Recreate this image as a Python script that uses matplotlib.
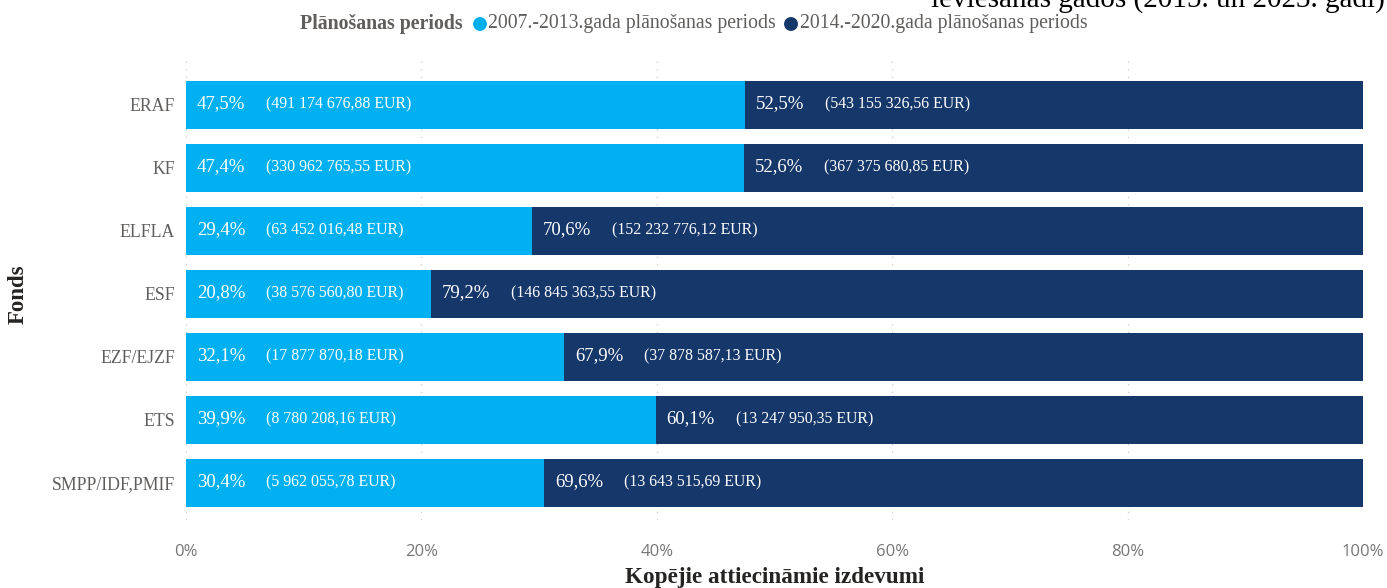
import matplotlib
matplotlib.use("Agg")
import matplotlib.pyplot as plt
import numpy as np

categories = ["ERAF", "KF", "ELFLA", "ESF", "EZF/EJZF", "ETS", "SMPP/IDF,PMIF"]
pct_2007 = [47.5, 47.4, 29.4, 20.8, 32.1, 39.9, 30.4]
pct_2014 = [52.5, 52.6, 70.6, 79.2, 67.9, 60.1, 69.6]
eur_2007 = ["491 174 676,88", "330 962 765,55", "63 452 016,48", "38 576 560,80",
            "17 877 870,18", "8 780 208,16", "5 962 055,78"]
eur_2014 = ["543 155 326,56", "367 375 680,85", "152 232 776,12", "146 845 363,55",
            "37 878 587,13", "13 247 950,35", "13 643 515,69"]
series_names = ["2007.-2013.gada plānošanas periods", "2014.-2020.gada plānošanas periods"]
xticks = [0, 20, 40, 60, 80, 100]

C1 = "#01B0F0"
C2 = "#15376A"
GRAY = "#605E5C"
SERIF = "Liberation Serif"

fig = plt.figure(figsize=(13.87, 5.88), dpi=100)
ax = fig.add_axes([186/1387, 1-520/588, (1363-186)/1387, (520-60)/588])

y = np.arange(len(categories))
h = 0.76
ax.barh(y, pct_2007, height=h, color=C1, zorder=2)
ax.barh(y, pct_2014, left=pct_2007, height=h, color=C2, zorder=2)

def fmt(v):
    return f"{v:.1f}".replace(".", ",") + "%"

for i in range(len(categories)):
    for left, p, e in [(0, pct_2007[i], eur_2007[i]), (pct_2007[i], pct_2014[i], eur_2014[i])]:
        ax.annotate(fmt(p), (left, y[i]), xytext=(11, 1), textcoords="offset pixels",
                    ha="left", va="center", color="white", fontsize=13.5, family=SERIF, zorder=3)
        ax.annotate(f"({e} EUR)", (left, y[i]), xytext=(80, 0), textcoords="offset pixels",
                    ha="left", va="center", color="white", fontsize=11.4, family=SERIF, zorder=3)

ax.set_xlim(0, 100)
ax.set_ylim(len(categories) - 1 + 0.59, -0.71)
ax.set_yticks(y)
ax.set_yticklabels(categories, family=SERIF, fontsize=12.8, color=GRAY)
ax.set_xticks(xticks)
ax.set_xticklabels([f"{t}%" for t in xticks], family="Open Sans", fontsize=12, color="#777777")
ax.tick_params(axis="both", length=0)
ax.tick_params(axis="x", pad=17)
ax.tick_params(axis="y", pad=8)
for s in ax.spines.values():
    s.set_visible(False)
ax.grid(axis="x", color="#C8C8C8", linestyle=(0, (1, 5)), linewidth=0.9, zorder=0)
ax.set_axisbelow(True)

fig.text(775/1387, 1-577/588, "Kopējie attiecināmie izdevumi", family=SERIF, fontsize=16.7,
         fontweight="bold", color="#252423", ha="center", va="center")
fig.text(18/1387, 1-294/588, "Fonds", rotation=90, family=SERIF, fontsize=16.5, fontweight="bold",
         color="#252423", ha="center", va="center")

# legend
ly = 1 - 23.5/588
fig.text(300/1387, ly, "Plānošanas periods", family=SERIF, fontsize=14.3, fontweight="bold",
         color=GRAY, ha="left", va="center")
fig.text(488/1387, ly, series_names[0], family=SERIF, fontsize=14.2, color=GRAY, ha="left", va="center")
fig.text(800/1387, ly, series_names[1], family=SERIF, fontsize=14.2, color=GRAY, ha="left", va="center")
lax = fig.add_axes([0, 0, 1, 1], facecolor="none")
lax.set_xlim(0, 1387)
lax.set_ylim(588, 0)
lax.axis("off")
lax.scatter([480, 791], [24, 24], s=100, c=[C1, C2], linewidths=0, zorder=5)

# cut-off title line from above
fig.text(1385/1387, 1 + 1/588, "ieviešanas gados (2015. un 2023. gadi)", family=SERIF, fontsize=21,
         color="#000000", ha="right", va="center")

fig.savefig("out.png", dpi=100)
